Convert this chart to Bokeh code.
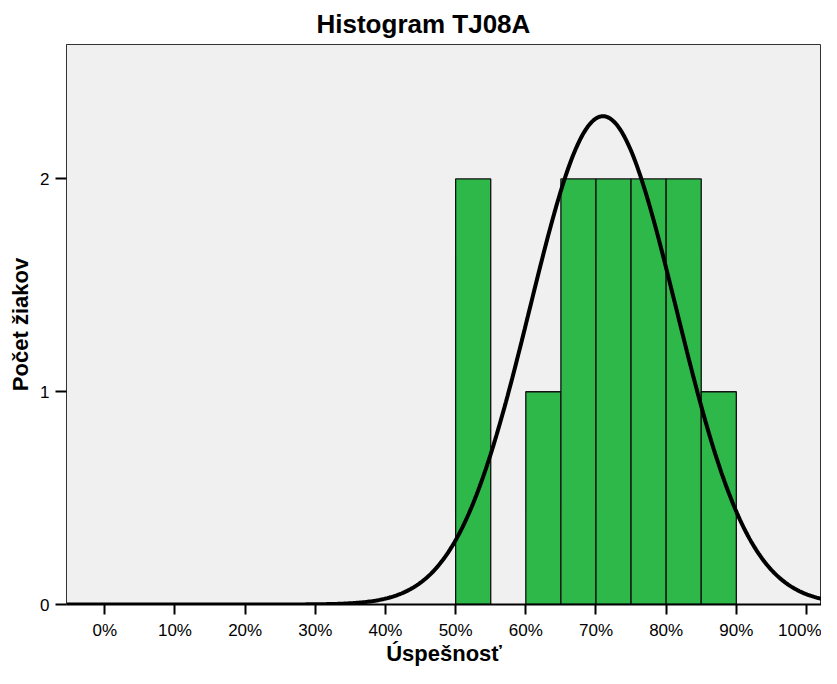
import numpy as np
from bokeh.plotting import figure
from bokeh.models import Range1d, FixedTicker, ColumnDataSource
from bokeh.embed import file_html
from bokeh.resources import INLINE

# ---- data ----
bin_left = [50, 55, 60, 65, 70, 75, 80, 85]
bin_right = [55, 60, 65, 70, 75, 80, 85, 90]
counts = [2, 0, 1, 2, 2, 2, 2, 1]
fit_mean = 71.0      # mean of normal curve (%)
fit_sd = 10.43       # std. deviation of normal curve (%)
n_total = 12         # number of students
bin_width = 5
x_ticks = [0, 10, 20, 30, 40, 50, 60, 70, 80, 90, 100]
x_tick_labels = ["0%", "10%", "20%", "30%", "40%", "50%", "60%", "70%", "80%", "90%", "100%"]
y_ticks = [0, 1, 2]
title_text = "Histogram TJ08A"
x_label = "Úspešnosť"
y_label = "Počet žiakov"

FONT = "Liberation Sans"

p = figure(width=821, height=668, output_backend="svg", toolbar_location=None,
           x_range=Range1d(-5.46, 102.14), y_range=Range1d(0, 2.632),
           min_border_left=66, min_border_right=0, min_border_top=43, min_border_bottom=64)

p.title.text = title_text
p.title.text_font = FONT
p.title.text_font_size = "26px"
p.title.text_font_style = "bold"
p.title.text_color = "black"
p.title.align = "left"
p.title.offset = 250
p.title.standoff = 12

p.border_fill_color = "white"
p.background_fill_color = "#F0F0F0"
p.outline_line_color = "#333333"
p.outline_line_width = 1
p.grid.visible = False

# bars
src = ColumnDataSource(dict(
    left=[l for l, c in zip(bin_left, counts) if c > 0],
    right=[r for r, c in zip(bin_right, counts) if c > 0],
    top=[c for c in counts if c > 0],
))
p.quad(left="left", right="right", bottom=0, top="top", source=src,
       fill_color="#2EB84A", line_color="#111111", line_width=1.3)

# normal curve
xs = np.linspace(-6, 105, 500)
ys = n_total * bin_width / (fit_sd * np.sqrt(2 * np.pi)) * np.exp(-0.5 * ((xs - fit_mean) / fit_sd) ** 2)
p.line(xs, ys, line_color="black", line_width=4)

# x axis
xa = p.xaxis[0]
xa.ticker = FixedTicker(ticks=x_ticks)
xa.major_label_overrides = {t: lab for t, lab in zip(x_ticks, x_tick_labels)}
xa.minor_tick_line_color = None
xa.major_tick_in = 0
xa.major_tick_out = 10
xa.major_tick_line_width = 2
xa.major_tick_line_color = "black"
xa.axis_line_color = "black"
xa.axis_line_width = 2
xa.major_label_text_font = FONT
xa.major_label_text_font_size = "17px"
xa.major_label_text_color = "black"
xa.major_label_standoff = 6
xa.axis_label = x_label
xa.axis_label_text_font = FONT
xa.axis_label_text_font_size = "22px"
xa.axis_label_text_font_style = "bold"
xa.axis_label_text_color = "black"
xa.axis_label_standoff = -2

# y axis
ya = p.yaxis[0]
ya.ticker = FixedTicker(ticks=y_ticks)
ya.minor_tick_line_color = None
ya.major_tick_in = 0
ya.major_tick_out = 11
ya.major_tick_line_width = 2
ya.major_tick_line_color = "black"
ya.axis_line_color = "#333333"
ya.axis_line_width = 1
ya.major_label_text_font = FONT
ya.major_label_text_font_size = "17px"
ya.major_label_text_color = "black"
ya.major_label_standoff = 6
ya.axis_label = y_label
ya.axis_label_text_font = FONT
ya.axis_label_text_font_size = "22px"
ya.axis_label_text_font_style = "bold"
ya.axis_label_text_color = "black"
ya.axis_label_standoff = 4

open("out.html", "w").write(file_html(p, INLINE))
